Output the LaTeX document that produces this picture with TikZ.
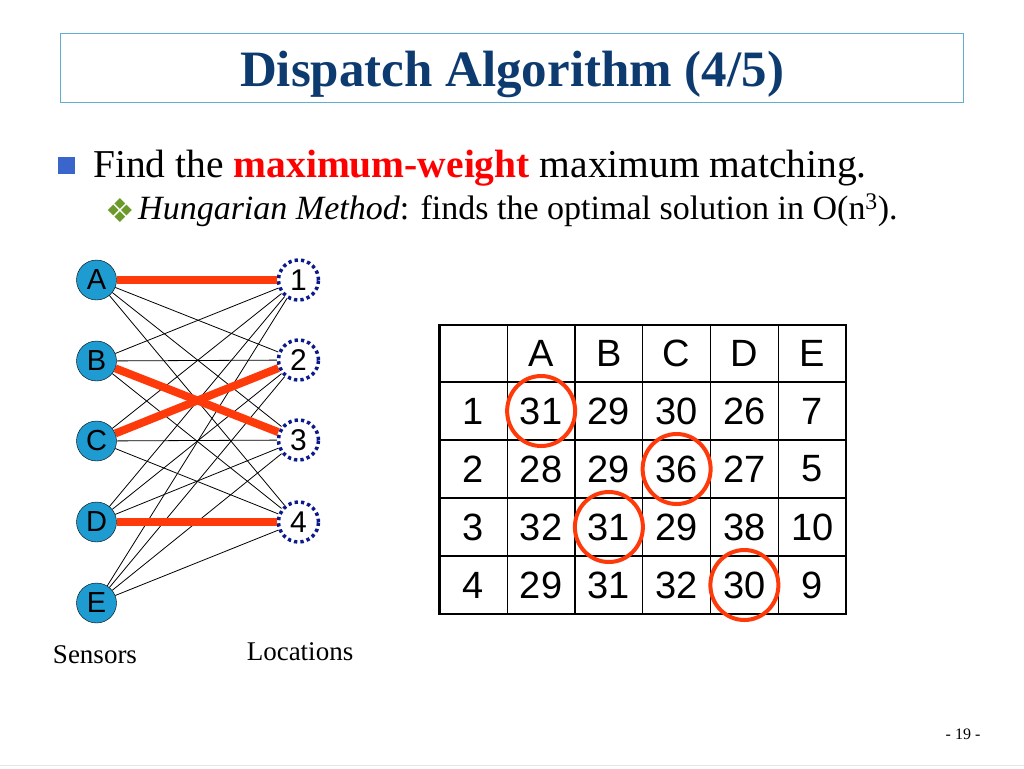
\documentclass[tikz,border=0pt]{standalone}
\usepackage{fontspec}
\setmainfont{Liberation Serif}
\newfontfamily\arialfont{Liberation Sans}
\newfontfamily\symbfont{DejaVu Sans}
\definecolor{titleblue}{HTML}{0D3B70}
\definecolor{boxblue}{HTML}{5FB0CE}
\definecolor{bulletblue}{HTML}{3A66CC}
\definecolor{diamondgreen}{HTML}{6B9A2A}
\definecolor{matchred}{HTML}{FF3A0A}
\definecolor{sensorblue}{HTML}{1E9BD0}
\definecolor{locnavy}{HTML}{0A1A8C}
\begin{document}
\begin{tikzpicture}[x=1pt,y=-1pt]
\def\tabx{439.5}
\def\colw{67.75}
\tikzstyle{sensor} = [circle,draw=black,fill=sensorblue,minimum size=40pt,inner sep=0pt,font=\arialfont\fontsize{29}{29}\selectfont]
\tikzstyle{location} = [circle,draw=locnavy,fill=white,line width=3.5pt,dash pattern=on 3.3pt off 3.1pt,minimum size=40pt,inner sep=0pt,font=\arialfont\fontsize{30}{30}\selectfont]
\tikzstyle{plainedge} = [black,line width=0.8pt]
\tikzstyle{matchedge} = [matchred,line width=8pt]
\tikzstyle{cell} = [inner sep=0pt,font=\arialfont\fontsize{38}{38}\selectfont]
\tikzstyle{matchring} = [matchred,line width=4pt]
  \useasboundingbox (0,0) rectangle (1024,768);
  \fill[white] (0,0) rectangle (1024,768);
  %title
  \node[draw=boxblue,line width=1pt,minimum width=903pt,minimum height=68pt,inner sep=0pt] (titlebox) at (511.5,68) {};
  \node[anchor=base,text=titleblue,font=\bfseries\fontsize{51}{51}\selectfont] (titletext) at (512,86) {Dispatch Algorithm (4/5)};
  %bullets
  \node[fill=bulletblue,minimum size=17pt,inner sep=0pt] (bullet) at (66,165) {};
  \node[anchor=base west,inner sep=0pt,font=\fontsize{39.5}{39.5}\selectfont] (findline) at (93,177)
    {Find the \textcolor{red}{\bfseries maximum-weight} maximum matching.};
  \node[text=diamondgreen,inner sep=0pt,font=\symbfont\fontsize{33}{33}\selectfont] (subbullet) at (120,211) {❖};
  \node[anchor=base west,inner sep=0pt,font=\fontsize{34}{34}\selectfont] (subline) at (138,219)
    {\textit{Hungarian Method}: finds the optimal solution in O(n\textsuperscript{3}).};
  %graph nodes
  \foreach \n/\y in {A/280,B/361,C/441,D/522,E/603}
    \node[sensor] (\n) at (96.5,\y) {\n};
  \foreach \n/\y in {1/280,2/360,3/440,4/522}
    \node[location] (L\n) at (298.5,\y) {\n};
  %edges
  \foreach \s in {A,B,C,D,E}
    \foreach \t in {1,2,3,4}
      \draw[plainedge] (\s) -- (L\t);
  \draw[matchedge] (A) -- (L1);
  \draw[matchedge] (B) -- (L3);
  \draw[matchedge] (C) -- (L2);
  \draw[matchedge] (D) -- (L4);
  \node[font=\fontsize{27}{27}\selectfont] (sensors) at (95,655) {Sensors};
  \node[font=\fontsize{27}{27}\selectfont] (locations) at (300,652) {Locations};
  %table grid
  \foreach \c in {1,...,5}
    \draw[line width=1.3pt] (\tabx+\c*\colw,325) -- (\tabx+\c*\colw,614);
  \foreach \y in {382,440,498,556}
    \draw[line width=1.3pt] (\tabx,\y) -- (\tabx+6*\colw,\y);
  \draw[line width=2.6pt] (\tabx,325) rectangle (\tabx+6*\colw,614);
  %table entries
  \foreach \l [count=\c] in {A,B,C,D,E}
    \node[cell] (head-\c) at (\tabx+\c*\colw+0.5*\colw,353.5) {\l};
  \foreach \r/\vals in {1/{31,29,30,26,7},2/{28,29,36,27,5},3/{32,31,29,38,10},4/{29,31,32,30,9}}{
    \node[cell] (cell-\r-0) at (\tabx+0.5*\colw,382+\r*58-29) {\r};
    \foreach \v [count=\c] in \vals
      \node[cell] (cell-\r-\c) at (\tabx+\c*\colw+0.5*\colw,382+\r*58-29) {\v};
  }
  %matching
  \draw[matchring] (cell-1-1) ellipse (34pt and 35pt);
  \draw[matchring] (cell-2-3) ellipse (34pt and 35pt);
  \draw[matchring] (cell-3-2) ellipse (34pt and 35pt);
  \draw[matchring] (cell-4-4) ellipse (34pt and 35pt);
  %footer
  \node[font=\fontsize{16}{16}\selectfont] (pagenum) at (963,734) {- 19 -};
  \draw[black!10,line width=1pt] (0,765.5) -- (1024,765.5);
\end{tikzpicture}
\end{document}
